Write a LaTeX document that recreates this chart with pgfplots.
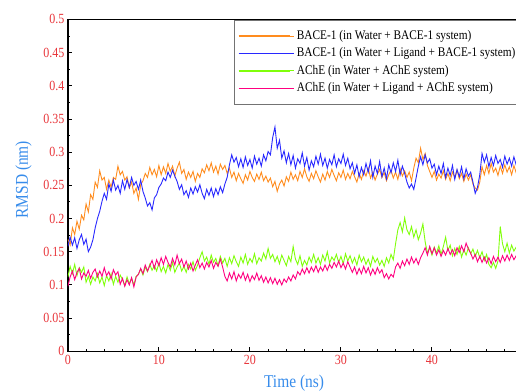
\documentclass[border=0pt]{standalone}
\usepackage{fontspec}
\setmainfont{Liberation Serif}[FakeStretch=0.86]
\usepackage{pgfplots}
\usepackage{pgfplotstable}
\pgfplotsset{compat=1.18}
\definecolor{cOr}{RGB}{255,140,30}
\definecolor{cBl}{RGB}{40,40,255}
\definecolor{cGr}{RGB}{128,255,10}
\definecolor{cPk}{RGB}{255,0,128}
\definecolor{cTick}{RGB}{232,55,60}
\definecolor{cLab}{RGB}{55,140,235}
\pgfplotstableread{
t O B G P
0.00 0.169 0.158 0.112 0.098
0.25 0.160 0.172 0.128 0.112
0.50 0.186 0.160 0.117 0.121
0.75 0.176 0.171 0.131 0.108
1.00 0.196 0.155 0.114 0.119
1.25 0.184 0.168 0.126 0.125
1.50 0.205 0.176 0.119 0.109
1.75 0.198 0.161 0.127 0.118
2.00 0.222 0.169 0.104 0.113
2.25 0.210 0.150 0.113 0.122
2.50 0.236 0.157 0.101 0.110
2.75 0.229 0.168 0.112 0.119
3.00 0.255 0.186 0.106 0.124
3.25 0.247 0.200 0.117 0.112
3.50 0.272 0.211 0.103 0.121
3.75 0.258 0.226 0.112 0.113
4.00 0.262 0.238 0.099 0.126
4.25 0.244 0.229 0.114 0.114
4.50 0.258 0.252 0.106 0.120
4.75 0.247 0.241 0.117 0.109
5.00 0.262 0.258 0.101 0.123
5.25 0.259 0.243 0.113 0.115
5.50 0.279 0.250 0.104 0.120
5.75 0.266 0.238 0.115 0.101
6.00 0.271 0.257 0.108 0.110
6.25 0.258 0.244 0.099 0.098
6.50 0.263 0.259 0.112 0.108
6.75 0.246 0.247 0.102 0.100
7.00 0.255 0.262 0.110 0.111
7.25 0.238 0.250 0.100 0.097
7.50 0.246 0.256 0.113 0.112
7.75 0.229 0.244 0.116 0.116
8.00 0.251 0.258 0.124 0.125
8.25 0.257 0.241 0.115 0.117
8.50 0.268 0.231 0.127 0.130
8.75 0.262 0.219 0.120 0.121
9.00 0.277 0.224 0.131 0.129
9.25 0.266 0.213 0.122 0.137
9.50 0.274 0.231 0.129 0.125
9.75 0.263 0.236 0.121 0.138
10.00 0.280 0.247 0.133 0.129
10.25 0.266 0.252 0.120 0.141
10.50 0.278 0.261 0.128 0.131
10.75 0.268 0.257 0.118 0.143
11.00 0.283 0.270 0.131 0.134
11.25 0.271 0.262 0.122 0.127
11.50 0.279 0.273 0.134 0.140
11.75 0.264 0.264 0.119 0.130
12.00 0.276 0.256 0.127 0.145
12.25 0.285 0.244 0.133 0.132
12.50 0.268 0.251 0.121 0.139
12.75 0.274 0.236 0.128 0.127
13.00 0.259 0.242 0.119 0.136
13.25 0.270 0.232 0.131 0.124
13.50 0.262 0.246 0.124 0.133
13.75 0.271 0.237 0.135 0.121
14.00 0.256 0.248 0.122 0.130
14.25 0.268 0.240 0.130 0.138
14.50 0.262 0.251 0.141 0.126
14.75 0.275 0.238 0.150 0.133
15.00 0.269 0.230 0.136 0.124
15.25 0.281 0.244 0.142 0.134
15.50 0.272 0.235 0.131 0.127
15.75 0.284 0.246 0.145 0.137
16.00 0.270 0.233 0.134 0.125
16.25 0.279 0.245 0.140 0.134
16.50 0.267 0.236 0.129 0.128
16.75 0.282 0.248 0.143 0.139
17.00 0.274 0.239 0.133 0.127
17.25 0.280 0.252 0.140 0.113
17.50 0.268 0.262 0.128 0.106
17.75 0.276 0.281 0.141 0.118
18.00 0.262 0.296 0.132 0.109
18.25 0.270 0.285 0.144 0.120
18.50 0.257 0.292 0.135 0.106
18.75 0.268 0.278 0.128 0.116
19.00 0.260 0.290 0.142 0.110
19.25 0.253 0.277 0.133 0.119
19.50 0.266 0.293 0.146 0.107
19.75 0.258 0.280 0.131 0.116
20.00 0.271 0.289 0.140 0.105
20.25 0.262 0.276 0.134 0.114
20.50 0.256 0.294 0.147 0.108
20.75 0.267 0.282 0.132 0.118
21.00 0.259 0.291 0.141 0.107
21.25 0.270 0.279 0.136 0.114
21.50 0.257 0.296 0.148 0.104
21.75 0.264 0.287 0.139 0.112
22.00 0.255 0.301 0.155 0.103
22.25 0.261 0.296 0.140 0.111
22.50 0.248 0.322 0.146 0.102
22.75 0.256 0.338 0.135 0.110
23.00 0.241 0.306 0.143 0.101
23.25 0.252 0.318 0.132 0.108
23.50 0.258 0.291 0.145 0.100
23.75 0.249 0.302 0.137 0.109
24.00 0.263 0.284 0.129 0.104
24.25 0.256 0.298 0.143 0.112
24.50 0.270 0.281 0.135 0.106
24.75 0.259 0.295 0.158 0.115
25.00 0.266 0.276 0.139 0.109
25.25 0.257 0.290 0.131 0.120
25.50 0.271 0.283 0.144 0.115
25.75 0.262 0.299 0.128 0.124
26.00 0.275 0.279 0.137 0.117
26.25 0.263 0.292 0.130 0.126
26.50 0.256 0.273 0.142 0.118
26.75 0.268 0.287 0.134 0.127
27.00 0.260 0.278 0.146 0.120
27.25 0.272 0.294 0.133 0.129
27.50 0.263 0.282 0.141 0.119
27.75 0.255 0.297 0.131 0.127
28.00 0.267 0.280 0.145 0.121
28.25 0.258 0.291 0.136 0.130
28.50 0.271 0.276 0.150 0.122
28.75 0.262 0.289 0.133 0.131
29.00 0.274 0.281 0.142 0.125
29.25 0.265 0.296 0.137 0.134
29.50 0.257 0.278 0.146 0.127
29.75 0.269 0.290 0.134 0.136
30.00 0.262 0.283 0.143 0.126
30.25 0.273 0.297 0.132 0.133
30.50 0.259 0.280 0.147 0.124
30.75 0.268 0.291 0.136 0.135
31.00 0.260 0.275 0.144 0.127
31.25 0.271 0.284 0.133 0.119
31.50 0.263 0.268 0.141 0.127
31.75 0.255 0.281 0.130 0.116
32.00 0.268 0.263 0.145 0.125
32.25 0.259 0.277 0.135 0.117
32.50 0.272 0.266 0.142 0.128
32.75 0.264 0.283 0.131 0.118
33.00 0.276 0.270 0.139 0.126
33.25 0.261 0.287 0.128 0.115
33.50 0.270 0.262 0.143 0.124
33.75 0.258 0.279 0.134 0.116
34.00 0.267 0.268 0.140 0.126
34.25 0.274 0.286 0.130 0.118
34.50 0.262 0.263 0.137 0.123
34.75 0.269 0.276 0.128 0.111
35.00 0.257 0.260 0.141 0.117
35.25 0.266 0.281 0.133 0.109
35.50 0.273 0.269 0.146 0.116
35.75 0.261 0.284 0.138 0.112
36.00 0.270 0.271 0.162 0.127
36.25 0.259 0.288 0.183 0.133
36.50 0.275 0.266 0.194 0.125
36.75 0.264 0.279 0.180 0.136
37.00 0.272 0.268 0.201 0.129
37.25 0.262 0.255 0.183 0.139
37.50 0.270 0.246 0.176 0.131
37.75 0.257 0.252 0.188 0.142
38.00 0.276 0.244 0.172 0.133
38.25 0.291 0.261 0.183 0.140
38.50 0.284 0.279 0.168 0.131
38.75 0.306 0.293 0.178 0.141
39.00 0.289 0.281 0.192 0.148
39.25 0.298 0.296 0.165 0.156
39.50 0.280 0.284 0.148 0.145
39.75 0.271 0.290 0.156 0.158
40.00 0.262 0.276 0.145 0.147
40.25 0.271 0.282 0.157 0.156
40.50 0.258 0.266 0.148 0.145
40.75 0.267 0.279 0.159 0.153
41.00 0.261 0.268 0.146 0.143
41.25 0.272 0.283 0.158 0.152
41.50 0.259 0.262 0.172 0.145
41.75 0.268 0.276 0.152 0.155
42.00 0.257 0.265 0.160 0.146
42.25 0.270 0.280 0.144 0.153
42.50 0.262 0.259 0.155 0.144
42.75 0.273 0.274 0.146 0.156
43.00 0.260 0.263 0.158 0.149
43.25 0.268 0.278 0.142 0.159
43.50 0.256 0.260 0.153 0.150
43.75 0.267 0.275 0.145 0.163
44.00 0.258 0.264 0.156 0.154
44.25 0.266 0.270 0.147 0.148
44.50 0.252 0.255 0.154 0.139
44.75 0.246 0.238 0.143 0.146
45.00 0.243 0.247 0.152 0.135
45.25 0.255 0.266 0.141 0.143
45.50 0.278 0.298 0.150 0.134
45.75 0.266 0.285 0.137 0.142
46.00 0.280 0.296 0.146 0.133
46.25 0.268 0.278 0.131 0.141
46.50 0.283 0.292 0.126 0.132
46.75 0.270 0.280 0.134 0.143
47.00 0.276 0.295 0.125 0.135
47.25 0.265 0.283 0.136 0.142
47.50 0.279 0.289 0.188 0.134
47.75 0.268 0.277 0.162 0.144
48.00 0.281 0.294 0.150 0.136
48.25 0.270 0.282 0.163 0.145
48.50 0.278 0.291 0.148 0.137
48.75 0.266 0.279 0.160 0.146
49.00 0.280 0.293 0.151 0.138
49.25 0.269 0.281 0.157 0.144
49.50 0.277 0.290 0.149 0.136
49.75 0.267 0.280 0.158 0.143
50.00 0.274 0.287 0.150 0.138
}\rmsd
\begin{document}
\begin{tikzpicture}
\begin{axis}[
  scale only axis,
  width=456pt, height=332.5pt,
  xmin=0, xmax=50, ymin=0, ymax=0.5,
  xtick={0,10,20,30,40,50},
  xticklabels={0,10,20,30,40,{}},
  ytick={0,0.05,0.1,0.15,0.2,0.25,0.3,0.35,0.4,0.45,0.5},
  yticklabels={0,0.05,0.1,0.15,0.2,0.25,0.3,0.35,0.4,0.45,0.5},
  minor x tick num=4, minor y tick num=1,
  tick align=inside, tick pos=left,
  major tick length=4.5pt, minor tick length=2.5pt,
  every tick/.style={black, line width=1pt},
  axis line style={black, line width=1.6pt},
  /pgf/number format/assume math mode=true,
  ticklabel style={font=\fontsize{14}{16}\selectfont, text=cTick},
  xlabel={Time (ns)}, ylabel={RMSD (nm)},
  label style={font=\fontsize{18}{20}\selectfont, text=cLab},
  xlabel style={at={(axis description cs:0.497,-0.108)}, anchor=base},
  ylabel style={at={(axis description cs:-0.0877,0.517)}, anchor=base},
  legend style={at={(axis description cs:0.364,0.9985)}, anchor=north west,
    draw=black!55, line width=0.7pt, fill=white,
    inner xsep=4pt, inner ysep=7pt,
    font=\fontsize{13.2}{15}\selectfont,
    nodes={inner sep=2pt, text height=10pt, text depth=3.5pt}},
  legend cell align=left,
  legend image code/.code={\draw[#1, line width=1.3pt] (0pt,0pt) -- (52pt,0pt); \path (52pt,0pt) -- (56pt,0pt);},
]
\addplot[cOr, line width=0.9pt] table[x=t, y=O] {\rmsd};
\addlegendentry{BACE-1 (in Water + BACE-1 system)}
\addplot[cBl, line width=0.9pt] table[x=t, y=B] {\rmsd};
\addlegendentry{BACE-1 (in Water + Ligand + BACE-1 system)}
\addplot[cGr, line width=0.9pt] table[x=t, y=G] {\rmsd};
\addlegendentry{AChE (in Water + AChE system)}
\addplot[cPk, line width=0.9pt] table[x=t, y=P] {\rmsd};
\addlegendentry{AChE (in Water + Ligand + AChE system)}
\coordinate (bbl) at (axis cs:-7.456,-0.0602);
\coordinate (btr) at (axis cs:49.23,0.5293);
\end{axis}
\pgfresetboundingbox
\path[use as bounding box] (bbl) rectangle (btr);
\end{tikzpicture}
\end{document}
